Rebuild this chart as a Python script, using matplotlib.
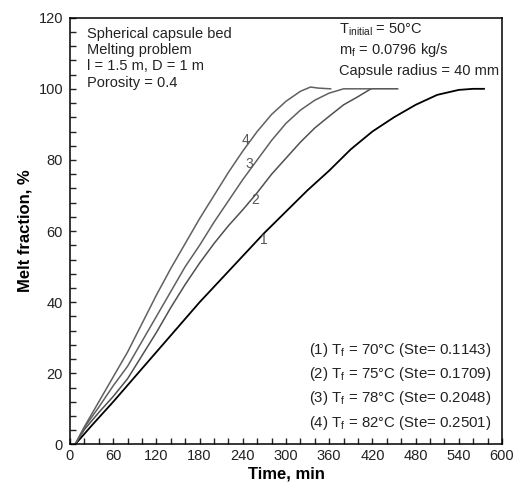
import matplotlib
matplotlib.use("Agg")
import matplotlib.pyplot as plt
from matplotlib.ticker import MultipleLocator

plt.rcParams['font.family'] = ['Liberation Sans', 'DejaVu Sans']
plt.rcParams['mathtext.fontset'] = 'custom'
plt.rcParams['mathtext.rm'] = 'Liberation Sans'
plt.rcParams['mathtext.it'] = 'Liberation Sans'

# Curve data (time in min, melt fraction in %)
t1 = [7, 30, 60, 90, 120, 150, 180, 210, 240, 270, 300, 330, 360, 390, 420, 450, 480, 510, 540, 560, 575]
v1 = [0, 5.3, 12, 19, 26, 33, 40, 46.5, 53, 59.5, 65.5, 71.5, 77, 83, 88, 92, 95.5, 98.3, 99.7, 100, 100]

t2 = [7, 20, 40, 60, 80, 100, 120, 140, 160, 180, 200, 220, 240, 260, 280, 300, 320, 340, 360, 380, 400, 418, 455]
v2 = [0, 4.2, 9, 13.5, 18.5, 25, 31.5, 38.5, 45, 51, 56.5, 61.5, 66, 70.8, 76, 80.5, 85, 89, 92.3, 95.5, 97.8, 100, 100]

t3 = [7, 20, 40, 60, 80, 100, 120, 140, 160, 180, 200, 220, 240, 260, 280, 300, 320, 340, 360, 380, 418]
v3 = [0, 4.8, 10.5, 16.5, 22, 29, 36, 43, 50, 56, 62.5, 68.5, 74.5, 80, 85.5, 90.3, 94, 96.8, 98.8, 100, 100]

t4 = [7, 20, 40, 60, 80, 100, 120, 140, 160, 180, 200, 220, 240, 260, 280, 300, 320, 334, 345, 362]
v4 = [0, 5, 12, 19, 26, 34, 42, 49.5, 56.5, 63.5, 70, 76.5, 82.5, 88, 92.8, 96.5, 99.3, 100.5, 100.2, 100]

curve_labels = ['1', '2', '3', '4']
label_pos_t = [269, 257.5, 249.6, 243.6]
label_pos_v = [57.5, 68.7, 78.8, 85.6]

legend_lines = [
    r'(1) T$_{\mathrm{f}}$ = 70°C (Ste= 0.1143)',
    r'(2) T$_{\mathrm{f}}$ = 75°C (Ste= 0.1709)',
    r'(3) T$_{\mathrm{f}}$ = 78°C (Ste= 0.2048)',
    r'(4) T$_{\mathrm{f}}$ = 82°C (Ste= 0.2501)',
]

fig = plt.figure(figsize=(5.2, 4.86), dpi=100)
ax = fig.add_axes([0.1346, 0.0854, 0.8308, 0.8782])

ax.plot(t1, v1, color='black', lw=1.3)
ax.plot(t2, v2, color='#505050', lw=1.1)
ax.plot(t3, v3, color='#606060', lw=1.1)
ax.plot(t4, v4, color='#606060', lw=1.1)

for lab, tx, vy in zip(curve_labels, label_pos_t, label_pos_v):
    ax.text(tx, vy, lab, fontsize=10, color='#555555', ha='center', va='center')

ax.set_xlim(0, 600)
ax.set_ylim(0, 120)
ax.xaxis.set_major_locator(MultipleLocator(60))
ax.xaxis.set_minor_locator(MultipleLocator(20))
ax.yaxis.set_major_locator(MultipleLocator(20))
ax.yaxis.set_minor_locator(MultipleLocator(4))
ax.tick_params(which='both', direction='in', top=False, right=False,
               length=4, width=1, labelsize=10.5, colors='#222222')
ax.tick_params(axis='x', pad=3)
ax.tick_params(axis='y', pad=5)
for s in ax.spines.values():
    s.set_linewidth(1.1)

ax.set_xlabel('Time, min', fontsize=12, fontweight='bold', labelpad=3)
ax.set_ylabel('Melt fraction, %', fontsize=12, fontweight='bold', labelpad=4)

ax.text(0.039, 0.978, 'Spherical capsule bed\nMelting problem\nl = 1.5 m, D = 1 m\nPorosity = 0.4',
        transform=ax.transAxes, fontsize=10.5, va='top', ha='left',
        linespacing=1.2, color='#222222')

tr_texts = [r'T$_{\mathrm{initial}}$ = 50°C', r'm$_{\mathrm{f}}$ = 0.0796 kg/s', 'Capsule radius = 40 mm']
tr_y = [0.971, 0.925, 0.876]
for s, yy in zip(tr_texts, tr_y):
    ax.text(0.623, yy, s, transform=ax.transAxes, fontsize=10.5,
            va='center', ha='left', color='#222222')

for i, line in enumerate(legend_lines):
    ax.text(0.975, 0.222 - i * 0.057, line, transform=ax.transAxes,
            fontsize=10.8, va='center', ha='right', color='#222222')

fig.savefig('out.png', dpi=100)
